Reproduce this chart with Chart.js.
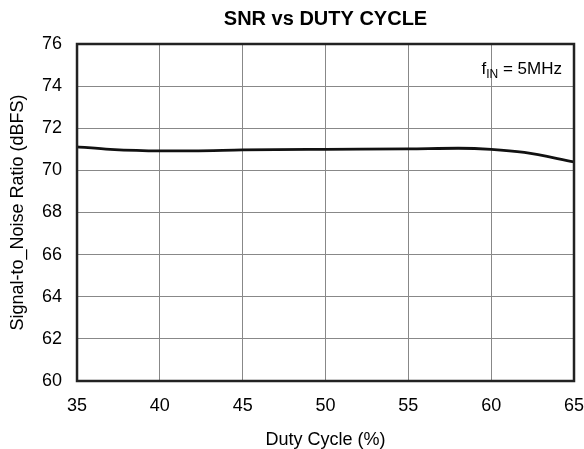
<!DOCTYPE html>
<html>
<head>
<meta charset="utf-8">
<script src="https://cdn.jsdelivr.net/npm/chart.js@4"></script>
<style>
  html, body { margin: 0; padding: 0; background: #fff; }
  #wrap { width: 584px; height: 449px; }
</style>
</head>
<body>
<div id="wrap"><canvas id="myChart" width="584" height="449"></canvas></div>
<script>
// duty cycle (%) and measured SNR (dBFS)
const dutyCycle = [35, 37, 40, 42, 45, 50, 55, 58, 60, 62, 65];
const snr = [71.12, 71.0, 70.93, 70.93, 70.97, 71.0, 71.02, 71.05, 71.0, 70.85, 70.4];
const xTicks = [35, 40, 45, 50, 55, 60, 65];
const yTicks = [60, 62, 64, 66, 68, 70, 72, 74, 76];
const chartTitle = "SNR vs DUTY CYCLE";

const FONT = "'Liberation Sans', Arial, sans-serif";

// title centred over the plot, plus the f_IN note in the top-right corner
const textPlugin = {
  id: "texts",
  afterDraw(chart) {
    const c = chart.ctx;
    const a = chart.chartArea;
    c.save();
    c.fillStyle = "#000";
    c.textAlign = "center";
    c.textBaseline = "middle";
    c.font = "bold 20px " + FONT;
    c.fillText(chartTitle, (a.left + a.right) / 2, 19);

    c.textAlign = "left";
    c.textBaseline = "alphabetic";
    const rest = " = 5MHz";
    c.font = "17px " + FONT;
    const wRest = c.measureText(rest).width;
    const wF = c.measureText("f").width;
    c.font = "12px " + FONT;
    const wSub = c.measureText("IN").width;
    let x = a.right - 12 - wRest - wSub - wF;
    const y = a.top + 30;
    c.font = "17px " + FONT;
    c.fillText("f", x, y);
    x += wF;
    c.font = "12px " + FONT;
    c.fillText("IN", x, y + 4);
    x += wSub;
    c.font = "17px " + FONT;
    c.fillText(rest, x, y);

    // thick frame round the plot
    c.strokeStyle = "#222";
    c.lineWidth = 2.5;
    c.strokeRect(a.left, a.top, a.right - a.left, a.bottom - a.top);
    c.restore();
  }
};

const ctx = document.getElementById("myChart");
const myChart = new Chart(ctx, {
  type: "line",
  data: {
    datasets: [
      {
        label: "SNR",
        data: dutyCycle.map((d, i) => ({ x: d, y: snr[i] })),
        borderColor: "#111",
        borderWidth: 2.8,
        pointRadius: 0,
        cubicInterpolationMode: "monotone",
        fill: false,
      },
    ],
  },
  options: {
    responsive: false,
    animation: false,
    devicePixelRatio: 1,
    layout: { padding: { left: 0, right: 10, top: 44, bottom: 0 } },
    plugins: {
      legend: { display: false },
      tooltip: { enabled: false },
      title: { display: false },
    },
    scales: {
      x: {
        type: "linear",
        min: 35,
        max: 65,
        afterBuildTicks: (axis) => {
          axis.ticks = xTicks.map((v) => ({ value: v }));
        },
        // let the last label hang over the right edge like the original
        afterFit: (axis) => {
          axis.paddingRight = 0;
        },
        grid: { color: "#888", lineWidth: 1, drawTicks: false },
        border: { display: false },
        ticks: {
          color: "#000",
          font: { family: FONT, size: 18, lineHeight: 1 },
          padding: 16,
          maxRotation: 0,
        },
        title: {
          display: true,
          text: "Duty Cycle (%)",
          color: "#000",
          font: { family: FONT, size: 18, lineHeight: 1 },
          padding: { top: 0, bottom: 0 },
        },
      },
      y: {
        min: 60,
        max: 76,
        afterBuildTicks: (axis) => {
          axis.ticks = yTicks.map((v) => ({ value: v }));
        },
        grid: { color: "#888", lineWidth: 1, drawTicks: false },
        border: { display: false },
        ticks: {
          color: "#000",
          font: { family: FONT, size: 18 },
          padding: 15,
        },
        title: {
          display: true,
          text: "Signal-to_Noise Ratio (dBFS)",
          color: "#000",
          font: { family: FONT, size: 18, lineHeight: 1 },
          padding: { top: 9, bottom: 0 },
        },
      },
    },
  },
  plugins: [textPlugin],
});
</script>
</body>
</html>
